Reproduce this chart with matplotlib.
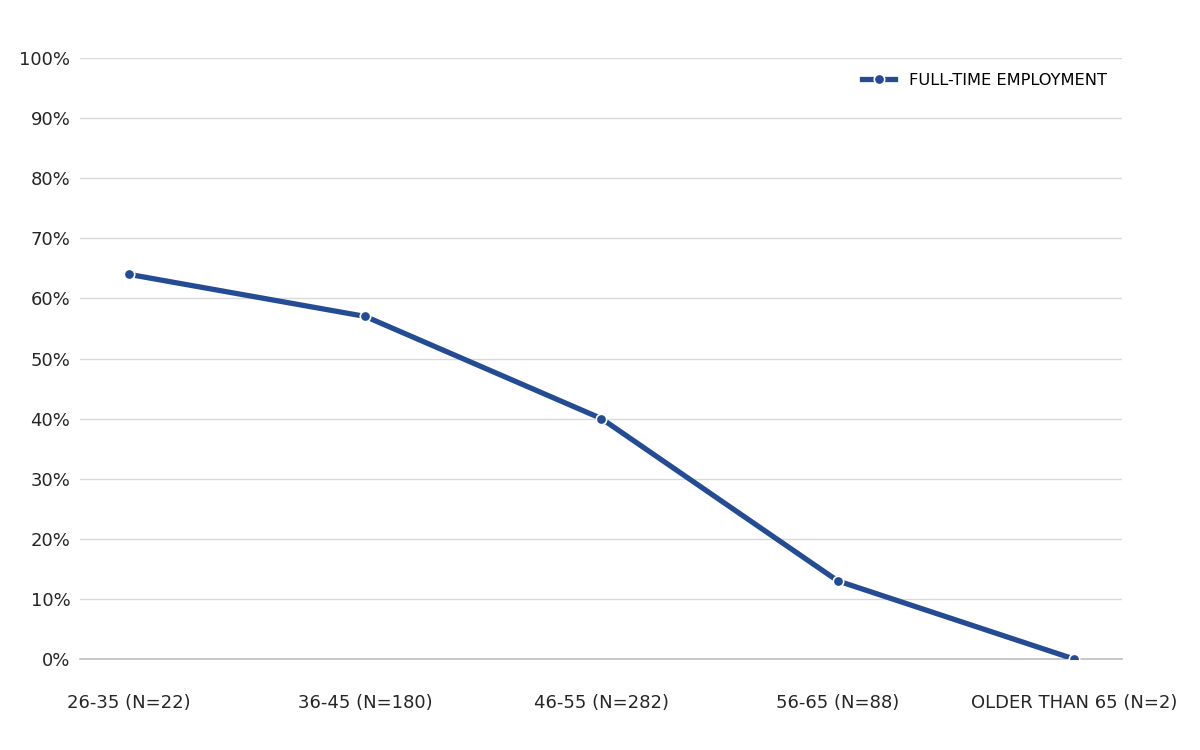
import matplotlib.pyplot as plt
from matplotlib.ticker import FuncFormatter

categories = ['26-35 (N=22)', '36-45 (N=180)', '46-55 (N=282)', '56-65 (N=88)', 'OLDER THAN 65 (N=2)']
full_time = [64, 57, 40, 13, 0]

plt.rcParams['font.family'] = ['DejaVu Sans']

fig = plt.figure(figsize=(12, 7.5), dpi=100)
ax = fig.add_axes([0.0667, 0.1213, 0.8683, 0.8014])

x = list(range(len(categories)))
ax.plot(x, full_time, color='#234c94', linewidth=3.8, marker='o', markersize=7.5,
        markerfacecolor='#234c94', markeredgecolor='white', markeredgewidth=1.2,
        label='FULL-TIME EMPLOYMENT', zorder=3)

ax.set_xlim(-0.207, 4.203)
ax.set_ylim(0, 100)
ax.set_yticks(range(0, 101, 10))
ax.yaxis.set_major_formatter(FuncFormatter(lambda v, p: f'{int(v)}%'))
ax.set_xticks(x)
ax.set_xticklabels(categories)

ax.grid(axis='y', color='#d9d9d9', linewidth=1)
ax.set_axisbelow(True)
for side in ['top', 'right', 'left']:
    ax.spines[side].set_visible(False)
ax.spines['bottom'].set_color('#bfbfbf')
ax.spines['bottom'].set_linewidth(1.2)
ax.tick_params(axis='both', length=0, labelsize=13, colors='#262626')
ax.tick_params(axis='x', pad=25)
ax.tick_params(axis='y', pad=7)

ax.legend(loc='upper right', frameon=False, fontsize=11.7, handlelength=2.0,
          handletextpad=0.9, bbox_to_anchor=(1.0, 1.0))

plt.savefig('out.png')
